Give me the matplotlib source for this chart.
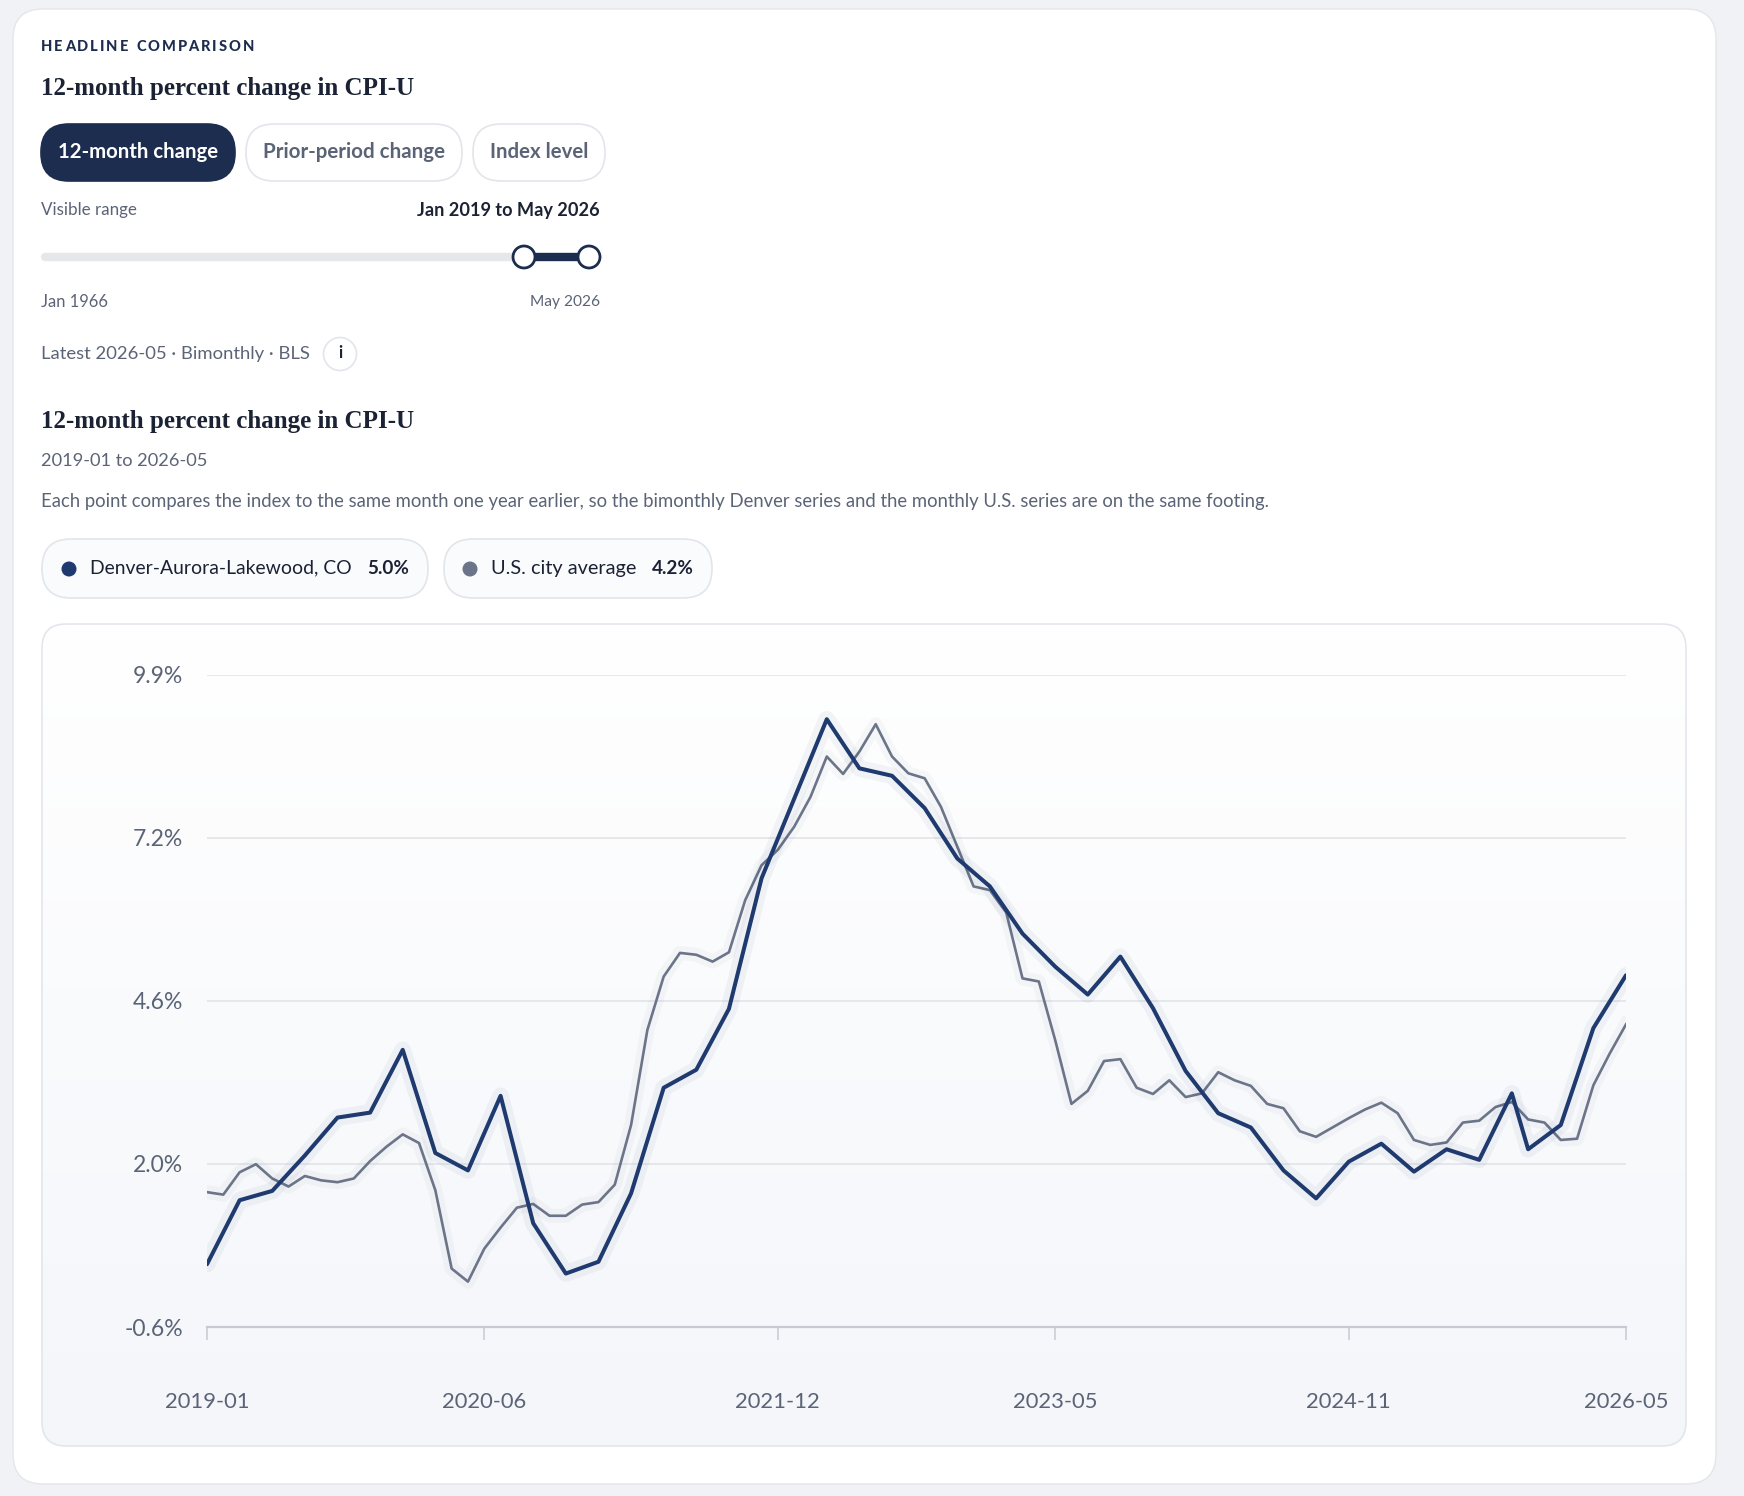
import numpy as np
import matplotlib.pyplot as plt
from matplotlib.patches import FancyBboxPatch, Circle
from matplotlib.colors import LinearSegmentedColormap
import matplotlib.patheffects as pe

# --- Data (12-month % change) ---
us_months = list(range(88))
us_yoy = [1.54, 1.50, 1.86, 1.99, 1.76, 1.63, 1.80, 1.73, 1.70, 1.76, 2.04, 2.27,
          2.47, 2.33, 1.57, 0.31, 0.10, 0.63, 0.97, 1.29, 1.35, 1.16, 1.16, 1.34,
          1.38, 1.66, 2.62, 4.15, 5.01, 5.39, 5.36, 5.25, 5.40, 6.24, 6.80, 7.05,
          7.42, 7.90, 8.55, 8.27, 8.63, 9.07, 8.55, 8.28, 8.20, 7.74, 7.10, 6.46,
          6.40, 6.04, 4.98, 4.93, 3.99, 2.96, 3.17, 3.65, 3.68, 3.22, 3.12, 3.34,
          3.07, 3.13, 3.47, 3.34, 3.25, 2.96, 2.89, 2.52, 2.43, 2.58, 2.73, 2.87,
          2.98, 2.81, 2.38, 2.30, 2.34, 2.66, 2.69, 2.91, 2.99, 2.71, 2.66, 2.38,
          2.40, 3.26, 3.77, 4.24]

denver_months = [0, 2, 4, 6, 8, 10, 12, 14, 16, 18, 20, 22, 24, 26, 28, 30, 32, 34,
                 36, 38, 40, 42, 44, 46, 48, 50, 52, 54, 56, 58, 60, 62, 64, 66, 68,
                 70, 72, 74, 76, 78, 80, 81, 83, 85, 87]
denver_yoy = [0.38, 1.41, 1.56, 2.13, 2.74, 2.82, 3.83, 2.17, 1.89, 3.09, 1.04, 0.23,
              0.42, 1.52, 3.22, 3.51, 4.49, 6.59, 7.87, 9.15, 8.36, 8.24, 7.72, 6.91,
              6.46, 5.70, 5.17, 4.72, 5.33, 4.50, 3.49, 2.81, 2.58, 1.89, 1.44, 2.03,
              2.32, 1.87, 2.23, 2.06, 3.13, 2.23, 2.62, 4.18, 5.03]

x_tick_pos = [0, 17, 35, 52, 70, 87]
x_tick_labels = ['2019-01', '2020-06', '2021-12', '2023-05', '2024-11', '2026-05']
y_ticks = [-0.63, 1.995, 4.62, 7.245, 9.87]

series_names = ['Denver-Aurora-Lakewood, CO', 'U.S. city average']
latest_values = ['5.0%', '4.2%']
buttons = ['12-month change', 'Prior-period change', 'Index level']

# --- Colours / fonts ---
NAVY_BTN = '#1c2d4f'
NAVY = '#1f3a6e'
GRAY_LINE = '#6b7488'
DARK = '#1a2233'
MUTED = '#5b6477'
BORDER = '#e2e5ea'
SANS = 'Lato'
SERIF = 'Liberation Serif'

W, H = 1744, 1496
fig = plt.figure(figsize=(W / 100, H / 100), dpi=100, facecolor='#f1f2f5')
bg = fig.add_axes([0, 0, 1, 1])
bg.set_xlim(0, W)
bg.set_ylim(H, 0)
bg.axis('off')
renderer = fig.canvas.get_renderer()


def rbox(x0, y0, x1, y1, r, **kw):
    p = FancyBboxPatch((x0, y0), x1 - x0, y1 - y0,
                       boxstyle=f'round,pad=0,rounding_size={r}', **kw)
    bg.add_patch(p)
    return p


def label(x, y, s, width=None, size=12, **kw):
    kw.setdefault('va', 'center')
    kw.setdefault('family', SANS)
    t = bg.text(x, y, s, fontsize=size, **kw)
    if width:
        w = t.get_window_extent(renderer).width
        t.set_fontsize(size * width / w)
    return t


def tracked(x, y, s, width, size, **kw):
    chars = []
    for ch in s:
        chars.append(bg.text(0, y, ch if ch != ' ' else 'I', fontsize=size,
                             va='center', family=SANS, **kw))
    widths = [c.get_window_extent(renderer).width for c in chars]
    gap = (width - sum(widths)) / (len(s) - 1)
    for ch, c, w in zip(s, chars, widths):
        if ch == ' ':
            c.set_visible(False)
        c.set_x(x)
        x += w + gap


# card
rbox(13, 9, 1716, 1484, 30, facecolor='white', edgecolor='#e4e6ea', lw=1, zorder=1)

# header
tracked(41, 47, 'HEADLINE COMPARISON', 213, 10.5, color=NAVY_BTN, weight='black')
label(41, 95, '12-month percent change in CPI-U', width=373, size=18,
      family=SERIF, weight='bold', color=DARK, va='baseline')

# toggle buttons
btn_boxes = [(41, 235), (246, 462), (473, 605)]
btn_text_w = [160, 182, 98]
for i, (name, (bx0, bx1), tw) in enumerate(zip(buttons, btn_boxes, btn_text_w)):
    active = i == 0
    rbox(bx0, 124, bx1, 181, 28, facecolor=NAVY_BTN if active else 'white',
         edgecolor=NAVY_BTN if active else BORDER, lw=1.2, zorder=2)
    label((bx0 + bx1) / 2, 152, name, width=tw, size=13, ha='center',
          weight='bold', color='white' if active else MUTED, zorder=3)

# range slider
label(41, 210, 'Visible range', width=96, size=11, color=MUTED)
label(600, 210, 'Jan 2019 to May 2026', width=183, size=11, ha='right',
      weight='bold', color=DARK)
bg.plot([45, 586], [257, 257], color='#e5e7eb', lw=6, solid_capstyle='round', zorder=2)
bg.plot([524, 589], [257, 257], color=NAVY_BTN, lw=6, zorder=3)
for hx in (524, 589):
    bg.add_patch(Circle((hx, 257), 11, facecolor='white', edgecolor=NAVY_BTN,
                        lw=2, zorder=4))
label(41, 302, 'Jan 1966', width=67, size=11, color=MUTED)
label(600, 302, 'May 2026', width=70, size=11, ha='right', color=MUTED)

label(41, 354, 'Latest 2026-05 \u00b7 Bimonthly \u00b7 BLS', width=268, size=13, color=MUTED)
bg.add_patch(Circle((340, 354), 16.5, facecolor='white', edgecolor=BORDER, lw=1.2, zorder=2))
label(340, 353, 'i', size=12, ha='center', weight='bold', color=DARK, zorder=3)

# chart heading
label(41, 428, '12-month percent change in CPI-U', width=373, size=18,
      family=SERIF, weight='bold', color=DARK, va='baseline')
label(41, 461, '2019-01 to 2026-05', width=166, size=13, color=MUTED)
label(41, 501, 'Each point compares the index to the same month one year earlier, '
      'so the bimonthly Denver series and the monthly U.S. series are on the same footing.',
      width=1229, size=12, color=MUTED)

# legend pills
pills = [(42, 428), (444, 712)]
dots = [69, 470]
name_w = [260, 145]
val_x = [367, 652]
val_w = [42, 42]
colors = [NAVY, GRAY_LINE]
for (px0, px1), dx, nm, nw, vx, vw, v, c in zip(pills, dots, series_names, name_w,
                                                  val_x, val_w, latest_values, colors):
    rbox(px0, 539, px1, 598, 29, facecolor='#fafbfd', edgecolor=BORDER, lw=1.2, zorder=2)
    bg.add_patch(Circle((dx, 569), 7.5, facecolor=c, edgecolor='none', zorder=3))
    label(dx + 21, 568, nm, width=nw, size=13, color=DARK, zorder=3)
    label(vx, 568, v, width=vw, size=11, weight='bold', color=DARK, zorder=3)

# chart panel with soft gradient
panel = rbox(42, 624, 1686, 1446, 24, facecolor='none', edgecolor='#e3e6ec', lw=1.2, zorder=3)
grad = np.linspace(0, 1, 256)[:, None]
cmap = LinearSegmentedColormap.from_list('panel', ['#ffffff', '#f4f6fa'])
im = bg.imshow(grad, extent=(42, 1686, 1446, 624), cmap=cmap, aspect='auto', zorder=2)
im.set_clip_path(panel)

# --- Chart ---
ax = fig.add_axes([207 / W, 1 - 1327 / H, (1626 - 207) / W, (1327 - 674.5) / H])
ax.set_facecolor('none')
ax.set_zorder(5)
ax.set_xlim(0, 87)
ax.set_ylim(y_ticks[0], y_ticks[-1])
ax.set_yticks(y_ticks)
ax.set_yticklabels([f'{v:.1f}%' for v in y_ticks])
ax.set_xticks(x_tick_pos)
ax.set_xticklabels(x_tick_labels)
ax.grid(axis='y', color='#e4e6eb', lw=1.3)
ax.set_axisbelow(True)
for s in ('top', 'right', 'left'):
    ax.spines[s].set_visible(False)
ax.spines['bottom'].set_color('#c6cad2')
ax.spines['bottom'].set_linewidth(1.6)
ax.tick_params(axis='y', length=0, pad=17, labelsize=16.5, labelcolor=MUTED)
ax.tick_params(axis='x', length=9.5, width=1.1, color='#c6cad2', pad=37,
               labelsize=15.8, labelcolor=MUTED)
for t in ax.get_xticklabels() + ax.get_yticklabels():
    t.set_family(SANS)

glow_us = [pe.Stroke(linewidth=10, foreground=GRAY_LINE, alpha=0.05), pe.Normal()]
glow_dv = [pe.Stroke(linewidth=12, foreground=NAVY, alpha=0.05), pe.Normal()]
ax.plot(us_months, us_yoy, color=GRAY_LINE, lw=1.9, solid_joinstyle='round',
        path_effects=glow_us, zorder=3)
ax.plot(denver_months, denver_yoy, color=NAVY, lw=2.9, solid_joinstyle='round',
        solid_capstyle='round', path_effects=glow_dv, zorder=4)

fig.savefig('out.png', dpi=100, facecolor=fig.get_facecolor())
